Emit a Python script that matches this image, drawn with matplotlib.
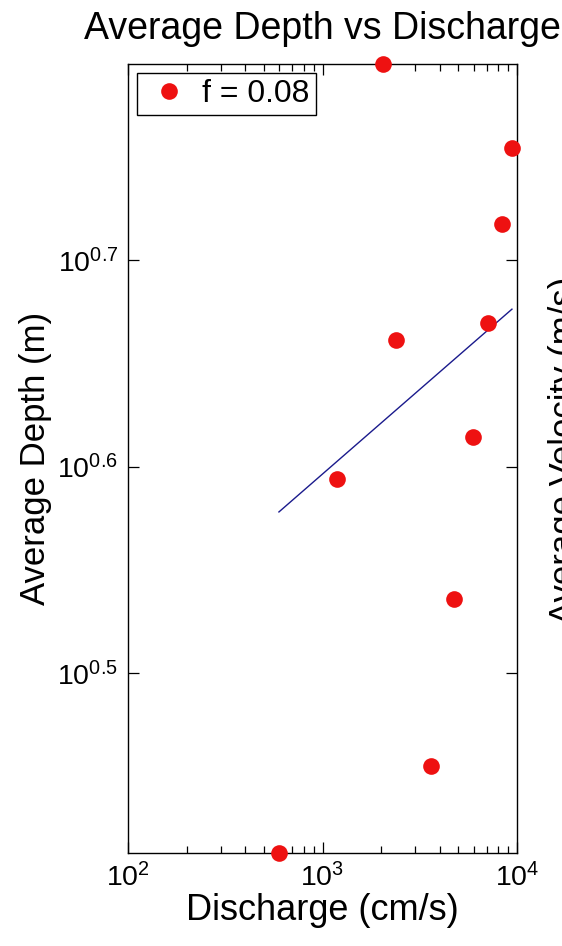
import numpy as np
import matplotlib
matplotlib.use('Agg')
import matplotlib.pyplot as plt
from matplotlib.ticker import FixedLocator, FixedFormatter, NullLocator, LogLocator

plt.rcParams['font.family'] = ['Liberation Sans', 'DejaVu Sans']
plt.rcParams['mathtext.fontset'] = 'custom'
plt.rcParams['mathtext.rm'] = 'Liberation Sans'
plt.rcParams['mathtext.it'] = 'Liberation Sans:italic'

# --- Messwerte ---
discharge = [597, 2047, 9420, 8370, 7100, 2390, 5940, 1190, 4740, 3610]      # cm/s
depth = [2.588, 6.24, 5.685, 5.218, 4.674, 4.587, 4.116, 3.926, 3.435, 2.852]  # m

# Ausgleichsgerade (log-log), Endpunkte
fit_x = [597, 9420]
fit_y = [3.786, 4.747]

y_exp = [0.5, 0.6, 0.7]
x_exp = [2, 3, 4]

fig = plt.figure(figsize=(5.62, 9.46), dpi=100)
ax = fig.add_axes([128/562, 1 - 853/946, (517 - 128)/562, (853 - 64)/946])

ax.plot(discharge, depth, 'o', color='#ee1111', markersize=12, markeredgewidth=0,
        label='f = 0.08', clip_on=False, zorder=3)
ax.plot(fit_x, fit_y, '-', color='#1a1a8c', linewidth=1.0)

ax.set_xscale('log')
ax.set_yscale('log')
ax.set_xlim(100, 10000)
ax.set_ylim(min(depth), max(depth))

ax.xaxis.set_major_locator(FixedLocator([10**e for e in x_exp]))
ax.xaxis.set_major_formatter(FixedFormatter([r'$\mathregular{10^{%d}}$' % e for e in x_exp]))
ax.xaxis.set_minor_locator(LogLocator(base=10, subs=np.arange(2, 10)))
ax.yaxis.set_major_locator(FixedLocator([10**e for e in y_exp]))
ax.yaxis.set_major_formatter(FixedFormatter([r'$\mathregular{10^{%.1f}}$' % e for e in y_exp]))
ax.yaxis.set_minor_locator(NullLocator())

ax.tick_params(which='both', direction='in', top=True, right=True, labelsize=20.5, width=0.9)
ax.tick_params(which='major', length=8, pad=7)
ax.tick_params(which='minor', length=5)
for s in ax.spines.values():
    s.set_linewidth(1.0)

ax.set_title('Average Depth vs Discharge', fontsize=27, pad=18)
ax.set_xlabel('Discharge (cm/s)', fontsize=26, labelpad=1)
ax.set_ylabel('Average Depth (m)', fontsize=25, labelpad=4)

leg = ax.legend(loc='upper left', fontsize=23, fancybox=False, framealpha=1,
                edgecolor='black', handlelength=1.6, handletextpad=0.25,
                borderpad=0.2, borderaxespad=0.27)
leg.get_frame().set_linewidth(1.0)

# Beschriftung des Nachbardiagramms (rechts angeschnitten)
fig.text(548/562, 1 - 450/946, 'Average Velocity (m/s)', rotation=90,
         ha='left', va='center', fontsize=25)

fig.savefig('out.png', dpi=100, facecolor='white')
